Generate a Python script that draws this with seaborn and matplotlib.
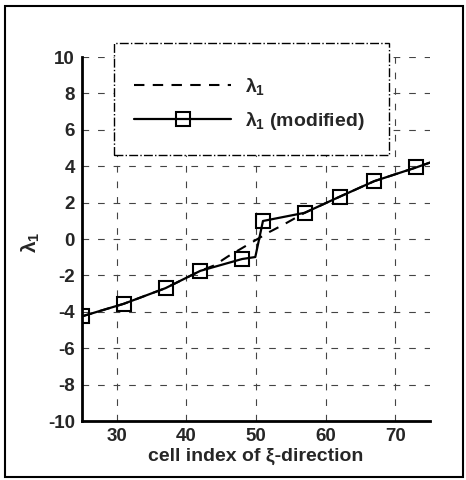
import matplotlib
matplotlib.use("Agg")
import matplotlib.pyplot as plt
import seaborn as sns
import pandas as pd
from matplotlib.ticker import MultipleLocator
from matplotlib.patches import Rectangle

# ---- data ----
x_mod = [25, 31, 37, 42, 48, 49.9, 51, 57, 62, 67, 73, 75]
y_mod = [-4.25, -3.56, -2.7, -1.75, -1.1, -0.99, 0.99, 1.44, 2.32, 3.18, 3.93, 4.2]
mod_marker_idx = [0, 1, 2, 3, 4, 6, 7, 8, 9, 10]

x_orig = [25, 31, 37, 42, 44, 46, 48, 50, 52, 54, 57, 62, 67, 73, 75]
y_orig = [-4.25, -3.56, -2.7, -1.75, -1.45, -0.95, -0.5, -0.05, 0.4, 0.8, 1.44, 2.32, 3.18, 3.93, 4.2]

x_ticks = [30, 40, 50, 60, 70]
y_ticks = [-10, -8, -6, -4, -2, 0, 2, 4, 6, 8, 10]

label_orig = r"$\lambda_1$"
label_mod = r"$\lambda_1$ (modified)"
xlabel = "cell index of ξ-direction"
ylabel = r"$\lambda_1$"

sns.set_style("white")
plt.rcParams['font.family'] = ['Liberation Sans', 'DejaVu Sans']
plt.rcParams['font.weight'] = 'bold'
plt.rcParams['axes.unicode_minus'] = False
plt.rcParams['mathtext.fontset'] = 'custom'
plt.rcParams['mathtext.rm'] = 'Liberation Sans:bold'
plt.rcParams['mathtext.it'] = 'Liberation Sans:bold'
plt.rcParams['mathtext.bf'] = 'Liberation Sans:bold'

W, H = 466, 480
fig = plt.figure(figsize=(W / 100, H / 100), dpi=100)
ax = fig.add_axes([82 / W, 1 - 421 / H, 348 / W, 364 / H])

df_o = pd.DataFrame({"x": x_orig, "y": y_orig})
df_m = pd.DataFrame({"x": x_mod, "y": y_mod})

sns.lineplot(data=df_o, x="x", y="y", ax=ax, sort=False, color="black",
             linewidth=1.5, linestyle=(0, (5, 4)), zorder=3)
sns.lineplot(data=df_m, x="x", y="y", ax=ax, sort=False, color="black",
             linewidth=1.6, marker="s", markersize=10.5, markerfacecolor="none",
             markeredgecolor="black", markeredgewidth=1.5,
             markevery=mod_marker_idx, zorder=4)

ax.set_xlim(25, 75)
ax.set_ylim(-10, 10)
ax.set_xticks(x_ticks)
ax.set_yticks(y_ticks)
ax.xaxis.set_minor_locator(MultipleLocator(2))
ax.yaxis.set_minor_locator(MultipleLocator(0.5))
ax.tick_params(axis='both', which='major', direction='in', length=7, width=1.5,
               labelsize=13.5, pad=5, color='black')
ax.tick_params(axis='both', which='minor', direction='in', length=3.5, width=1.0,
               color='black')
for lab in ax.get_xticklabels() + ax.get_yticklabels():
    lab.set_fontweight('bold')

ax.grid(True, which='major', color='#444444', linestyle=(0, (6, 8)), linewidth=0.8)
ax.set_axisbelow(True)

for s in ['top', 'right']:
    ax.spines[s].set_visible(False)
for s in ['left', 'bottom']:
    ax.spines[s].set_linewidth(2.0)
    ax.spines[s].set_color('black')

ax.set_xlabel(xlabel, fontsize=14, fontweight='bold', labelpad=2)
ax.set_ylabel(ylabel, fontsize=15, fontweight='normal')
ax.yaxis.set_label_coords(-0.115, 0.49)

# legend frame (dash-dot box with white fill)
leg_box = Rectangle((114 / W, 1 - 155 / H), (389 - 114) / W, (155 - 43) / H,
                    transform=fig.transFigure, facecolor='white', edgecolor='black',
                    linewidth=1.0, linestyle='-.', zorder=5)
fig.patches.append(leg_box)

handles = ax.get_lines()
leg = fig.legend(handles=[handles[0], handles[1]], labels=[label_orig, label_mod],
                 loc='upper left', bbox_to_anchor=(134 / W, 1 - 76 / H),
                 frameon=False, fontsize=14, handlelength=5.0, handletextpad=0.7,
                 borderpad=0, labelspacing=0.65, borderaxespad=0)
leg.set_zorder(6)
for t in leg.get_texts():
    t.set_fontweight('bold')

# outer border
border = Rectangle((5 / W, 1 - 477 / H), 458 / W, 471 / H, transform=fig.transFigure,
                   facecolor='none', edgecolor='black', linewidth=1.5, zorder=0)
fig.patches.append(border)

fig.savefig("out.png", dpi=100)
